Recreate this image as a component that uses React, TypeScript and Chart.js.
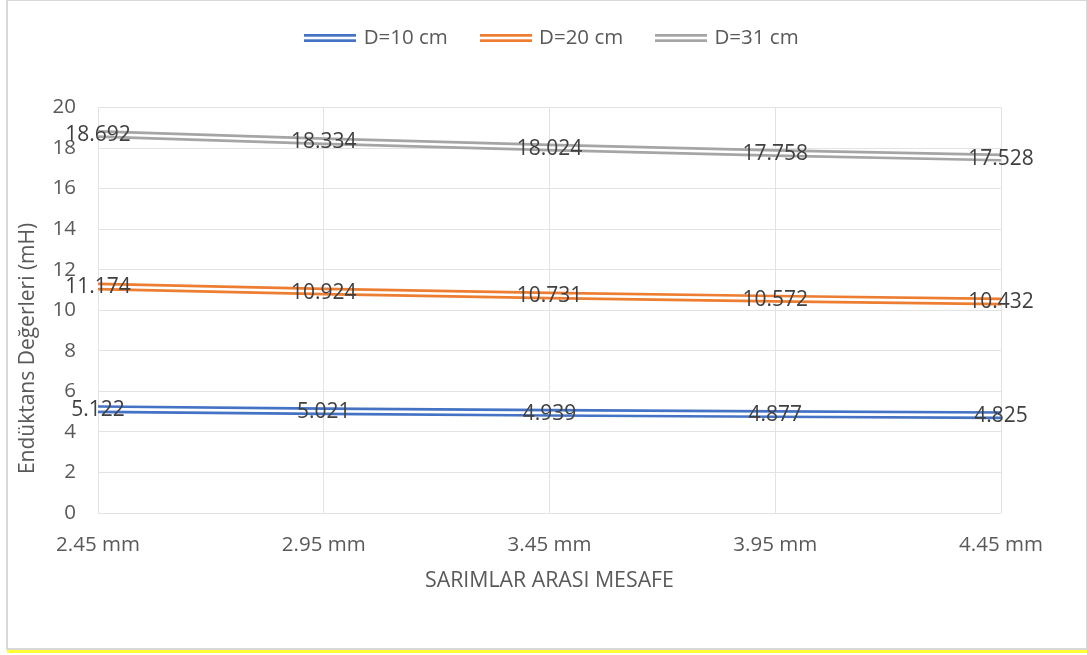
import React, { useEffect, useRef } from "react";
import { Chart, registerables } from "chart.js";

Chart.register(...registerables);

const categories = ["2.45 mm", "2.95 mm", "3.45 mm", "3.95 mm", "4.45 mm"];
const d10 = [5.122, 5.021, 4.939, 4.877, 4.825];
const d20 = [11.174, 10.924, 10.731, 10.572, 10.432];
const d31 = [18.692, 18.334, 18.024, 17.758, 17.528];
const seriesLabels = ["D=10 cm", "D=20 cm", "D=31 cm"];
const seriesColors = ["#4472C4", "#ED7D31", "#A5A5A5"];
const yTitle = "Endüktans Değerleri (mH)";
const xTitle = "SARIMLAR ARASI MESAFE";

const FONT = "'Open Sans', sans-serif";
const LEGEND_PAD = 35;
const LEGEND_FONT = 20.5;

function makeLegendImg(color: string) {
  const c = document.createElement("canvas");
  c.width = 52;
  c.height = 8;
  const ctx = c.getContext("2d")!;
  ctx.fillStyle = color;
  ctx.fillRect(0, 0, 52, 2.7);
  ctx.fillRect(0, 5.3, 52, 2.7);
  return c;
}

const labelPlugin = {
  id: "centerLabels",
  afterLayout(chart: any) {
    const l = chart.legend;
    if (!l) return;
    const dx = 47;
    l.left += dx;
    l.right += dx;
    const desiredTop = 37 - LEGEND_PAD - LEGEND_FONT / 2;
    const dy = desiredTop - l.top;
    l.top += dy;
    l.bottom += dy;
  },
  afterDatasetsDraw(chart: any) {
    const ctx = chart.ctx;
    ctx.save();
    ctx.font = `21px ${FONT}`;
    ctx.fillStyle = "#404040";
    ctx.textAlign = "center";
    ctx.textBaseline = "middle";
    chart.data.datasets.forEach((ds: any, i: number) => {
      if (!ds.showLabels) return;
      const meta = chart.getDatasetMeta(i);
      meta.data.forEach((pt: any, j: number) => {
        ctx.fillText(ds.data[j].toFixed(3), pt.x, pt.y + 1);
      });
    });
    ctx.restore();
  },
};

export default function App() {
  const ref = useRef<HTMLCanvasElement | null>(null);
  useEffect(() => {
    if (!ref.current) return;
    const series = [d10, d20, d31];
    const imgs = seriesColors.map((c) => makeLegendImg(c));
    const datasets: any[] = [];
    series.forEach((s, i) => {
      datasets.push({
        label: seriesLabels[i],
        data: s,
        borderColor: seriesColors[i],
        backgroundColor: seriesColors[i],
        borderWidth: 8,
        pointRadius: 0,
        tension: 0,
        order: 1,
        showLabels: true,
      });
    });
    series.forEach((s, i) => {
      datasets.push({
        label: "_gap" + i,
        data: s,
        borderColor: "#ffffff",
        backgroundColor: "#ffffff",
        borderWidth: 2.6,
        pointRadius: 0,
        tension: 0,
        order: 0,
      });
    });
    const chart = new Chart(ref.current, {
      type: "line",
      data: { labels: categories, datasets },
      plugins: [labelPlugin],
      options: {
        animation: false,
        responsive: true,
        maintainAspectRatio: false,
        layout: { padding: { left: 3, right: 85, top: 41, bottom: 50 } },
        plugins: {
          tooltip: { enabled: false },
          legend: {
            position: "top",
            labels: {
              usePointStyle: true,
              pointStyleWidth: 46,
              padding: LEGEND_PAD,
              color: "#595959",
              font: { family: FONT, size: LEGEND_FONT },
              generateLabels: () =>
                seriesLabels.map((t, i) => ({
                  text: t,
                  pointStyle: imgs[i] as any,
                  fillStyle: seriesColors[i],
                  strokeStyle: seriesColors[i],
                  lineWidth: 0,
                  hidden: false,
                  datasetIndex: i,
                  fontColor: "#595959",
                })),
            },
          },
        },
        scales: {
          x: {
            offset: false,
            grid: { color: "#e3e3e3", drawTicks: false },
            border: { display: false },
            ticks: {
              color: "#595959",
              font: { family: FONT, size: 20.5 },
              padding: 20,
              maxRotation: 0,
            },
            title: {
              display: true,
              text: xTitle,
              color: "#595959",
              font: { family: FONT, size: 21.3 },
            },
            afterFit: (s: any) => {
              s.height = 85;
            },
          },
          y: {
            min: 0,
            max: 20,
            grid: { color: "#e3e3e3", drawTicks: false },
            border: { display: false },
            ticks: {
              stepSize: 2,
              color: "#595959",
              font: { family: FONT, size: 20.5 },
              padding: 22,
            },
            title: {
              display: true,
              text: yTitle + "              ",
              color: "#595959",
              font: { family: FONT, size: 21 },
            },
            afterFit: (s: any) => {
              s.width = 87;
            },
          },
        },
      },
    });
    return () => chart.destroy();
  }, []);

  return (
    <div
      style={{
        position: "fixed",
        left: 0,
        top: 0,
        width: 1087,
        height: 655,
        background: "#ffffff",
      }}
    >
      <div
        style={{
          position: "absolute",
          left: 6,
          top: 0,
          width: 1078,
          height: 647,
          border: "1px solid #d9d9d9",
          borderLeft: "2px solid #d9d9d9",
          borderRight: "2px solid #d9d9d9",
          borderBottom: "2px solid #d9d9d9",
          background: "#ffffff",
        }}
      >
        <canvas ref={ref} />
      </div>
      <div
        style={{
          position: "absolute",
          left: 7,
          top: 650,
          width: 1080,
          height: 3,
          background: "#ffff33",
        }}
      />
    </div>
  );
}
